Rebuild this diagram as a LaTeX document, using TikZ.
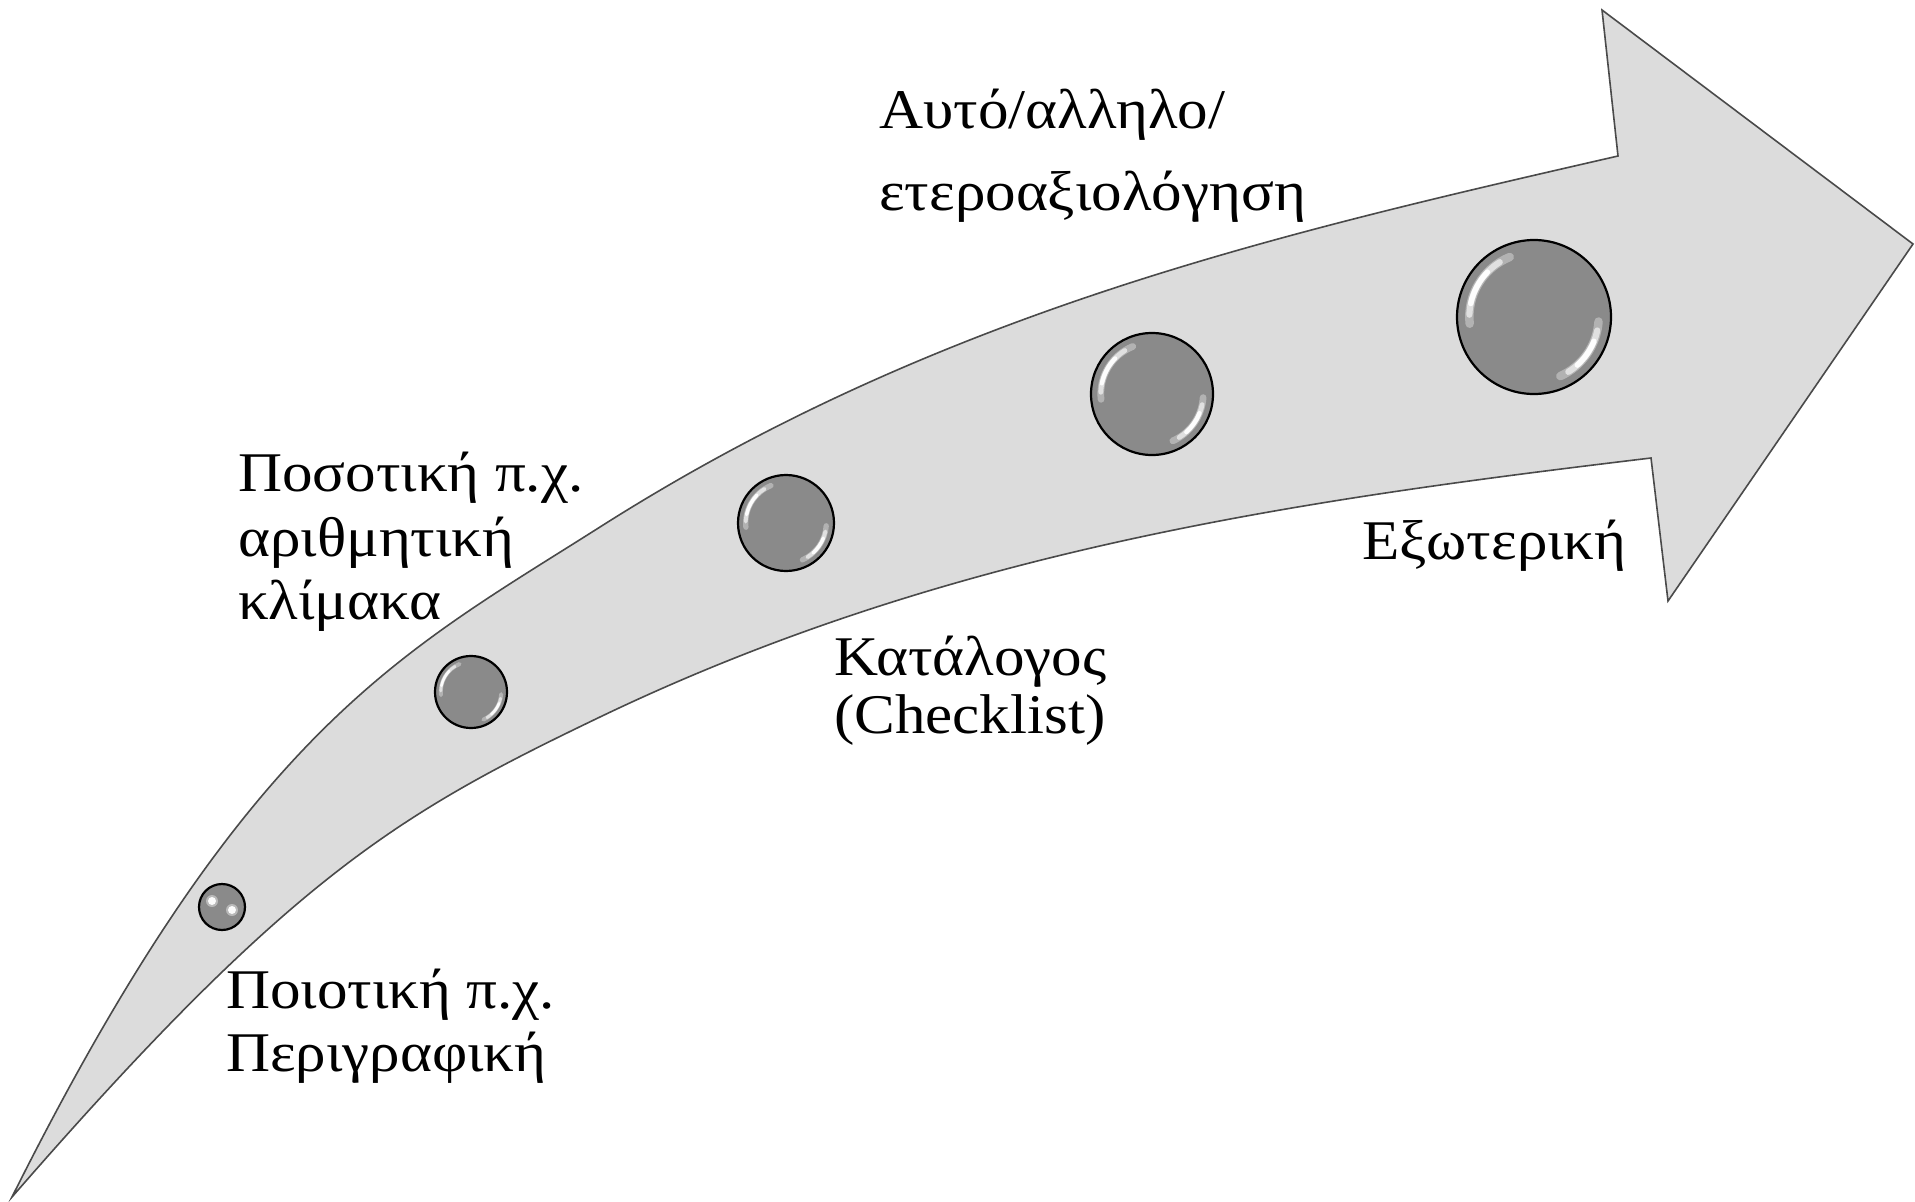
\documentclass[tikz,border=0pt]{standalone}
\usepackage{fontspec}
\setmainfont[FakeStretch=1.09]{Liberation Serif}
\definecolor{arrfill}{HTML}{DCDCDC}
\definecolor{arredge}{HTML}{4A4A4A}
\definecolor{bubc}{HTML}{8A8A8A}
\definecolor{bube}{HTML}{BCBCBC}
\pgfdeclareradialshading{bubshade}{\pgfpoint{0bp}{0bp}}{color(0bp)=(bubc); color(37bp)=(bubc); color(47bp)=(bube); color(50bp)=(bube)}
\newcommand\bubhl[3]{%
  \draw[white, opacity=0.35, line width=0.11*#3, line cap=round] (#1,#2) ++(-112:0.84*#3) arc[start angle=-112, end angle=-186, radius=0.84*#3];
  \draw[white, opacity=0.6, line width=0.08*#3, line cap=round] (#1,#2) ++(-122:0.84*#3) arc[start angle=-122, end angle=-178, radius=0.84*#3];
  \draw[white, opacity=0.95, line width=0.07*#3, line cap=round] (#1,#2) ++(-136:0.84*#3) arc[start angle=-136, end angle=-168, radius=0.84*#3];
  \draw[white, opacity=0.35, line width=0.11*#3, line cap=round] (#1,#2) ++(4:0.84*#3) arc[start angle=4, end angle=66, radius=0.84*#3];
  \draw[white, opacity=0.6, line width=0.08*#3, line cap=round] (#1,#2) ++(12:0.84*#3) arc[start angle=12, end angle=58, radius=0.84*#3];
  \draw[white, opacity=0.95, line width=0.07*#3, line cap=round] (#1,#2) ++(22:0.84*#3) arc[start angle=22, end angle=48, radius=0.84*#3];
}
\begin{document}
\begin{tikzpicture}[x=1pt,y=-1pt,
  lbl/.style={anchor=base west, inner sep=0pt, font=\fontsize{56}{64}\selectfont},
  bubble/.style={circle, draw=black, line width=2.2pt, shading=bubshade, inner sep=0pt}]
\fill[white] (0,0) rectangle (1915,1202);
\useasboundingbox (0,0) rectangle (1915,1202);
% arrow
\draw[fill=arrfill, draw=arredge, line width=1.6pt, line join=miter]
  (12,1197) .. controls (247,727) and (400,654) .. (600,527)
  .. controls (940,311) and (1278,234) .. (1618,156)
  -- (1602,10) -- (1913,244) -- (1668,601) -- (1651,458)
  .. controls (1301,500) and (950,549) .. (600,717)
  .. controls (400,813) and (292,875) .. (12,1197) -- cycle;
% bubbles
\node[bubble, minimum size=46] (b1) at (222,907) {};
\fill[white, opacity=0.4] (212,901) circle[radius=6];
\fill[white, opacity=0.4] (232,910) circle[radius=6];
\fill[white, opacity=0.95] (212,901) circle[radius=4];
\fill[white, opacity=0.95] (232,910) circle[radius=4];
\node[bubble, minimum size=72] (b2) at (471,692) {};
\bubhl{471}{692}{36}
\node[bubble, minimum size=96] (b3) at (786,523) {};
\bubhl{786}{523}{48}
\node[bubble, minimum size=122] (b4) at (1152,394) {};
\bubhl{1152}{394}{61}
\node[bubble, minimum size=154] (b5) at (1534,317) {};
\bubhl{1534}{317}{77}
% labels
\node[lbl] (t1a) at (879,128) {Αυτό/αλληλο/};
\node[lbl] (t1b) at (879,210) {ετεροαξιολόγηση};
\node[lbl] (t2a) at (238,491) {Ποσοτική π.χ.};
\node[lbl] (t2b) at (238,556) {αριθμητική};
\node[lbl] (t2c) at (238,619) {κλίμακα};
\node[lbl] (t3a) at (834,675) {Κατάλογος};
\node[lbl] (t3b) at (834,733) {(Checklist)};
\node[lbl] (t4) at (1362,559) {Εξωτερική};
\node[lbl] (t5a) at (226,1008) {Ποιοτική π.χ.};
\node[lbl] (t5b) at (226,1071) {Περιγραφική};
\end{tikzpicture}
\end{document}
